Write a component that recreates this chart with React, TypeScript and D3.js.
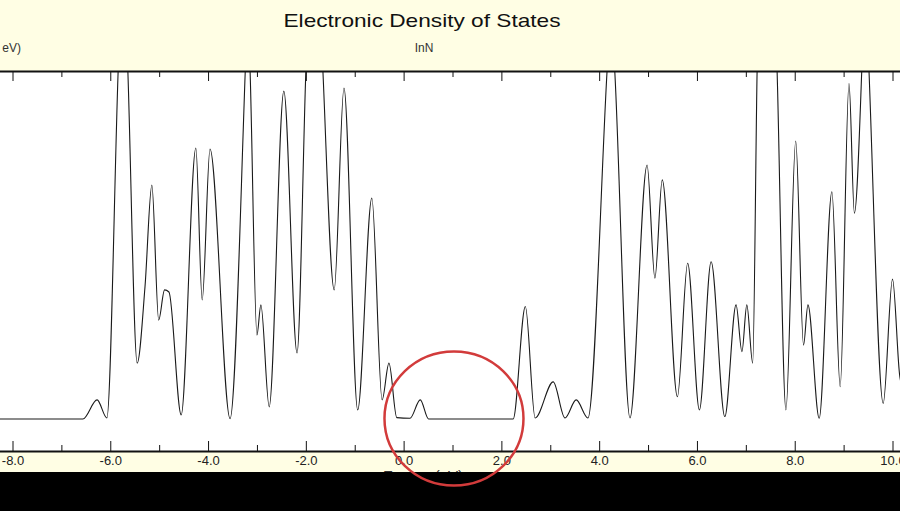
import * as d3 from 'd3'

const W = 900
const H = 511

// points (energy in eV, DOS in arbitrary units)
const energy = [
  -8.6, -6.57, -6.28, -6.08, -5.85, -5.75, -5.65, -5.46, -5.3, -5.16, -5.02, -4.9, -4.81, -4.56,
  -4.26, -4.13, -3.97, -3.56, -3.25, -3.2, -3.15, -3.01, -2.93, -2.76, -2.46, -2.19,
  -2.01, -1.83, -1.66, -1.43, -1.23, -0.95, -0.66, -0.45, -0.31, -0.15, 0.12, 0.33, 0.5,
  2.23, 2.48, 2.68, 3.05, 3.29, 3.52, 3.76, 4.15, 4.23, 4.31, 4.62, 4.97, 5.13, 5.28,
  5.59, 5.8, 6.04, 6.28, 6.56, 6.79, 6.91, 7.01, 7.13, 7.22, 7.4, 7.63, 7.81, 8.01,
  8.17, 8.26, 8.49, 8.75, 8.92, 9.1, 9.21, 9.36, 9.43, 9.51, 9.8, 9.99, 10.14, 10.4,
]
const dos = [
  0, 0, 0.55, 0.03, 10, 14, 10, 1.61, 3.81, 6.74, 2.85, 3.72, 3.66, 0.12,
  7.81, 3.43, 7.78, 0.01, 10, 12, 10, 2.42, 3.29, 0.35, 9.45, 1.9,
  10, 16, 10, 3.72, 9.54, 0.26, 6.37, 0.55, 1.61, 0.04, 0.02, 0.55, 0,
  0, 3.24, 0.03, 1.07, 0.03, 0.55, 0.03, 10, 12, 10, 0.03, 7.32, 4.06, 6.89,
  0.64, 4.49, 0.26, 4.53, 0.07, 3.29, 1.94, 3.29, 1.61, 10, 20, 10, 0.26, 8.01,
  2.13, 3.29, 0.02, 6.55, 0.93, 9.67, 5.93, 10, 13, 10, 0.45, 4.03, 1.22, 0.1,
]

const majorTicks = [-8, -6, -4, -2, 0, 2, 4, 6, 8, 10]
const minorTicks = [-7, -5, -3, -1, 1, 3, 5, 7, 9]
const tickLabels = ['-8.0', '-6.0', '-4.0', '-2.0', '0.0', '2.0', '4.0', '6.0', '8.0', '10.0']

const TOP = 72
const BOTTOM = 451
const FONT = '"Liberation Sans", Arial, sans-serif'

const x = d3.scaleLinear().domain([-8, 10]).range([13, 893])
const y = d3.scaleLinear().domain([0, 10]).range([419, TOP])

const points: [number, number][] = energy.map((e, i) => [e, dos[i]])

const Ticks = () => (
  <g stroke="#111" strokeWidth={1}>
    {majorTicks.map(t => (
      <g key={'M' + t}>
        <line x1={x(t)} x2={x(t)} y1={TOP} y2={TOP + 9} />
        <line x1={x(t)} x2={x(t)} y1={BOTTOM} y2={BOTTOM - 10} />
      </g>
    ))}
    {minorTicks.map(t => (
      <g key={'m' + t}>
        <line x1={x(t)} x2={x(t)} y1={TOP} y2={TOP + 5} />
        <line x1={x(t)} x2={x(t)} y1={BOTTOM} y2={BOTTOM - 6} />
      </g>
    ))}
  </g>
)

const TickLabels = () => (
  <g fontFamily={FONT} fontSize={13} fill="#222" textAnchor="middle">
    {majorTicks.map((t, i) => (
      <text key={t} x={x(t)} y={465}>{tickLabels[i]}</text>
    ))}
  </g>
)

export default function App() {
  const line = d3.line<[number, number]>()
    .x(d => x(d[0]))
    .y(d => y(d[1]))
    .curve(d3.curveMonotoneX)

  return (
    <svg width={W} height={H} style={{ position: 'fixed', left: 0, top: 0, display: 'block' }}>
      <defs>
        <clipPath id="plot">
          <rect x={0} y={TOP} width={W} height={BOTTOM - TOP} />
        </clipPath>
      </defs>
      <rect width={W} height={H} fill="#fffee4" />
      <rect x={0} y={TOP} width={W} height={BOTTOM - TOP} fill="#fff" />

      <text x={422} y={27} textAnchor="middle" fontFamily={FONT} fontSize={19}
        textLength={277} lengthAdjust="spacingAndGlyphs" fill="#111">
        Electronic Density of States
      </text>
      <text x={424} y={52} textAnchor="middle" fontFamily={FONT} fontSize={12} fill="#333">InN</text>
      <text x={21} y={52} textAnchor="end" fontFamily={FONT} fontSize={12} fill="#333">eV)</text>

      <path d={line(points) ?? ''} fill="none" stroke="#1a1a1a" strokeWidth={1.1} clipPath="url(#plot)" />

      <Ticks />
      <line x1={0} x2={W} y1={TOP - 0.5} y2={TOP - 0.5} stroke="#111" strokeWidth={2} />
      <line x1={0} x2={W} y1={BOTTOM + 0.5} y2={BOTTOM + 0.5} stroke="#111" strokeWidth={2} />
      <TickLabels />

      <text x={423} y={481} textAnchor="middle" fontFamily={FONT} fontSize={15} fill="#333">Energy (eV)</text>
      <rect x={0} y={472} width={W} height={H - 472} fill="#000" />

      <ellipse cx={x(1.02)} cy={418.5} rx={69.5} ry={67} fill="none" stroke="#d23b3b" strokeWidth={2.5} />
    </svg>
  )
}
